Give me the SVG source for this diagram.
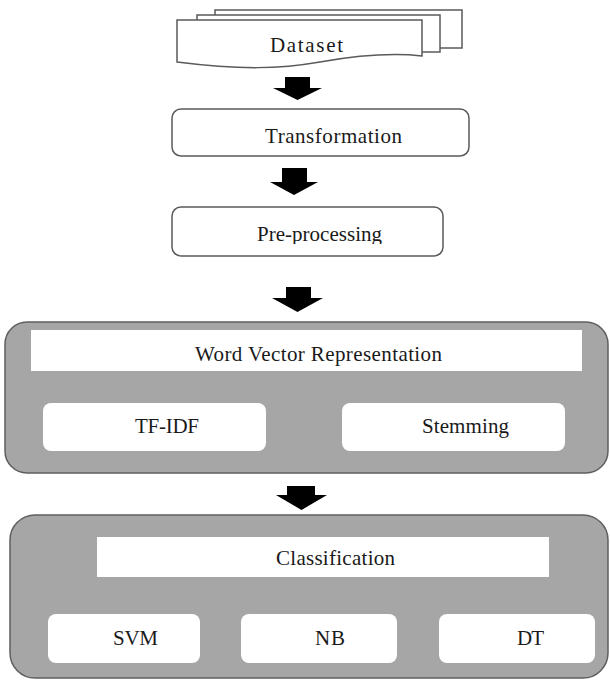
<svg xmlns="http://www.w3.org/2000/svg" width="610" height="680" viewBox="0 0 610 680">
<style>
  text { font-family: "Liberation Serif", "DejaVu Serif", serif; font-size: 21px; fill: #1a1a1a; }
  .doc { fill: #ffffff; stroke: #5a5a5a; stroke-width: 1.5; }
  .box { fill: #ffffff; stroke: #5a5a5a; stroke-width: 1.5; }
  .panel { fill: #a6a6a6; stroke: #5f5f5f; stroke-width: 1.5; }
  .inner { fill: #ffffff; }
  .arrow { fill: #000000; }
</style>
<defs>
  <clipPath id="ppclip"><rect x="172" y="207" width="271" height="37"/></clipPath>
</defs>
<rect width="610" height="680" fill="#ffffff"/>

<g id="dataset">
  <rect class="doc" x="215" y="10" width="247" height="38"/>
  <rect class="doc" x="197" y="15" width="243" height="37"/>
  <path class="doc" d="M177,20 H422 V56 C395,53 360,55 320,62 C280,69 240,70 177,62 Z"/>
  <text font-family="Liberation Serif, serif" x="270" y="52" textLength="73" font-size="22">Dataset</text>
</g>

<g id="transformation">
  <rect class="box" x="172" y="109" width="297" height="47" rx="9"/>
  <text font-family="Liberation Serif, serif" x="265" y="143" textLength="137">Transformation</text>
</g>

<g id="preprocessing">
  <rect class="box" x="172" y="207" width="271" height="49" rx="9"/>
  <text font-family="Liberation Serif, serif" x="257" y="241" textLength="125" clip-path="url(#ppclip)">Pre-processing</text>
</g>

<g id="word-vector">
  <rect class="panel" x="5" y="322" width="603" height="151" rx="22"/>
  <rect class="inner" x="31" y="330" width="551" height="41"/>
  <text font-family="Liberation Serif, serif" x="195" y="361" textLength="247">Word Vector Representation</text>
</g>

<g id="tfidf">
  <rect class="inner" x="43" y="403" width="223" height="48" rx="8"/>
  <text font-family="Liberation Serif, serif" x="135" y="433" textLength="64">TF-IDF</text>
</g>

<g id="stemming">
  <rect class="inner" x="342" y="403" width="223" height="48" rx="8"/>
  <text font-family="Liberation Serif, serif" x="422" y="433" textLength="87">Stemming</text>
</g>

<g id="classification">
  <rect class="panel" x="10" y="515" width="598" height="163" rx="25"/>
  <rect class="inner" x="97" y="537" width="452" height="40"/>
  <text font-family="Liberation Serif, serif" x="276" y="565" textLength="119">Classification</text>
</g>

<g id="svm">
  <rect class="inner" x="48" y="614" width="152" height="49" rx="8"/>
  <text font-family="Liberation Serif, serif" x="113" y="645" textLength="45">SVM</text>
</g>

<g id="nb">
  <rect class="inner" x="241" y="614" width="156" height="49" rx="8"/>
  <text font-family="Liberation Serif, serif" x="315" y="645" textLength="30">NB</text>
</g>

<g id="dt">
  <rect class="inner" x="439" y="614" width="156" height="49" rx="8"/>
  <text font-family="Liberation Serif, serif" x="517" y="645" textLength="27">DT</text>
</g>

<g id="connectors">
  <polygon class="arrow" points="285,77 310,77 310,88 322,88 297.5,100 273,88 285,88"/>
  <polygon class="arrow" points="282,168 307,168 307,182 318,182 294,195 270,182 282,182"/>
  <polygon class="arrow" points="286,287 311,287 311,298 323,298 297.5,312 272,298 286,298"/>
  <polygon class="arrow" points="287,486 315,486 315,495 327,495 301.5,510 276,495 287,495"/>
</g>
</svg>
